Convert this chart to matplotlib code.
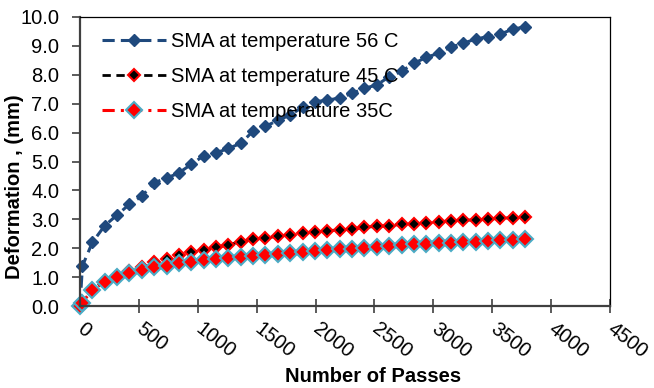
import numpy as np
import matplotlib
matplotlib.use("Agg")
import matplotlib.pyplot as plt

plt.rcParams["font.family"] = ["Liberation Sans", "DejaVu Sans"]

# number of passes (shared by all three series)
passes = [0, 21, 105, 210, 315, 420, 525, 630, 735, 840, 945, 1050, 1155,
          1260, 1365, 1470, 1575, 1680, 1785, 1890, 1995, 2100, 2205, 2310,
          2415, 2520, 2625, 2730, 2835, 2940, 3045, 3150, 3255, 3360, 3465,
          3570, 3675, 3780]

# deformation (mm)
sma_56 = [0.0, 1.39, 2.20, 2.78, 3.15, 3.52, 3.80, 4.27, 4.42, 4.61, 4.90,
          5.20, 5.30, 5.45, 5.63, 6.05, 6.22, 6.42, 6.61, 6.88, 7.07, 7.12,
          7.20, 7.36, 7.53, 7.65, 7.93, 8.12, 8.40, 8.60, 8.75, 8.96, 9.09,
          9.24, 9.32, 9.41, 9.58, 9.66]
sma_45 = [0.0, 0.15, 0.60, 0.85, 1.03, 1.20, 1.35, 1.53, 1.64, 1.76, 1.86,
          1.93, 2.03, 2.12, 2.22, 2.31, 2.35, 2.42, 2.46, 2.51, 2.56, 2.61,
          2.63, 2.66, 2.72, 2.76, 2.78, 2.83, 2.84, 2.88, 2.92, 2.94, 2.97,
          2.98, 3.01, 3.03, 3.06, 3.07]
sma_35 = [0.0, 0.12, 0.57, 0.82, 0.99, 1.14, 1.26, 1.34, 1.39, 1.48, 1.53,
          1.58, 1.61, 1.65, 1.71, 1.73, 1.77, 1.81, 1.85, 1.87, 1.89, 1.93,
          1.96, 1.97, 2.00, 2.03, 2.08, 2.11, 2.13, 2.15, 2.17, 2.19, 2.20,
          2.22, 2.26, 2.27, 2.28, 2.31]

labels = ["SMA at temperature 56 C", "SMA at temperature 45 C",
          "SMA at temperature 35C"]

x_ticks = [0, 500, 1000, 1500, 2000, 2500, 3000, 3500, 4000, 4500]
y_ticks = [0, 1, 2, 3, 4, 5, 6, 7, 8, 9, 10]

blue = "#1F497D"
cyan = "#4BACC6"

fig = plt.figure(figsize=(6.54, 3.88), dpi=100)
ax = fig.add_axes([0.1223, 0.2113, 0.8104, 0.7449])

ax.plot(passes, sma_56, color=blue, lw=2.2, ls=(0, (4, 2)),
        marker="D", ms=6.5, mfc=blue, mec=blue, label=labels[0], clip_on=False)
ax.plot(passes, sma_45, color="black", lw=2.0, ls=(0, (3, 2)),
        marker="D", ms=6.5, mfc="black", mec="red", mew=1.5,
        label=labels[1], clip_on=False)
ax.plot(passes, sma_35, color="red", lw=2.2, ls=(0, (4, 2, 1, 2)),
        marker="D", ms=8, mfc="red", mec=cyan, mew=1.5,
        label=labels[2], clip_on=False)

ax.set_xlim(0, 4500)
ax.set_ylim(0, 10)
ax.set_xticks(x_ticks)
ax.set_yticks(y_ticks)
ax.set_yticklabels([f"{v:.1f}" for v in y_ticks])
ax.set_xticklabels([str(v) for v in x_ticks], rotation=-38,
                   ha="left", rotation_mode="anchor", va="center")

ax.tick_params(axis="y", direction="out", length=6, width=1.2,
               color="#404040", labelsize=14.5, pad=9)
ax.tick_params(axis="x", direction="inout", length=10, width=1.2,
               color="#404040", labelsize=14.5, pad=10)

for side in ["left", "bottom"]:
    ax.spines[side].set_color("#404040")
    ax.spines[side].set_linewidth(1.6)
for side in ["top", "right"]:
    ax.spines[side].set_color("black")
    ax.spines[side].set_linewidth(0.9)

ax.set_xlabel("Number of Passes", fontsize=14.5, fontweight="bold")
ax.set_ylabel("Deformation , (mm)", fontsize=14.5, fontweight="bold")
ax.xaxis.set_label_coords(0.553, -0.212)
ax.yaxis.set_label_coords(-0.106, 0.413)

ax.legend(loc="upper left", bbox_to_anchor=(0.026, 0.975), frameon=False,
          fontsize=14.5, handlelength=3.2, handletextpad=0.25,
          labelspacing=0.78, borderaxespad=0)

fig.savefig("out.png", dpi=100)
